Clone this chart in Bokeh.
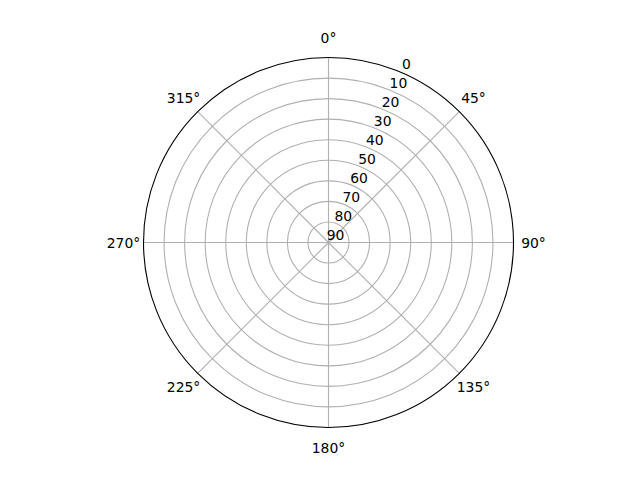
import numpy as np
from bokeh.plotting import figure
from bokeh.models import Range1d
from bokeh.core.properties import value
from bokeh.embed import file_html
from bokeh.resources import INLINE

# Data
r_ticks = [0, 10, 20, 30, 40, 50, 60, 70, 80, 90]
r_tick_labels = ["0", "10", "20", "30", "40", "50", "60", "70", "80", "90"]
theta_ticks = [0, 45, 90, 135, 180, 225, 270, 315]
theta_labels = ["0°", "45°", "90°", "135°", "180°", "225°", "270°", "315°"]
r_max = 90
rlabel_angle = 22.5

W, H = 624, 464
CX, CY = 328, 242
R = 185.0  # pixel radius of the outer circle

p = figure(width=W, height=H, output_backend="svg", toolbar_location=None,
           x_range=Range1d(-CX, W - CX), y_range=Range1d(-(H - CY), CY),
           min_border=0)
p.axis.visible = False
p.grid.visible = False
p.outline_line_color = None
p.background_fill_color = "white"
p.border_fill_color = "white"

def rscale(v):
    # inverted radial axis: 0 at the edge, r_max at the centre
    return (r_max - np.asarray(v, dtype=float)) / r_max * R

# grid rings
ring_vals = [v for v in r_ticks if 0 < v < r_max]
p.circle(x=[0] * len(ring_vals), y=[0] * len(ring_vals), radius=list(rscale(ring_vals)),
         fill_color=None, line_color="#b0b0b0", line_width=1.1)

# spokes
th = np.radians(theta_ticks)
p.segment(x0=[0] * len(th), y0=[0] * len(th), x1=list(R * np.sin(th)), y1=list(R * np.cos(th)),
          line_color="#b0b0b0", line_width=1.1)

# outer circle
p.circle(x=[0], y=[0], radius=[float(rscale(0))], fill_color=None,
         line_color="black", line_width=1.1)

FONT = value("DejaVu Sans")

# theta labels
p.text(x=list(205 * np.sin(th)), y=list(205 * np.cos(th)), text=theta_labels,
       text_align="center", text_baseline="middle", text_font=FONT,
       text_font_size="13.9px", text_color="black")

# radial labels
a = np.radians(rlabel_angle)
rr = rscale(r_ticks)
p.text(x=list(rr * np.sin(a) + 7), y=list(rr * np.cos(a) + 7.5), text=r_tick_labels,
       text_align="center", text_baseline="middle", text_font=FONT,
       text_font_size="13.9px", text_color="black")

open("out.html", "w").write(file_html(p, INLINE))
